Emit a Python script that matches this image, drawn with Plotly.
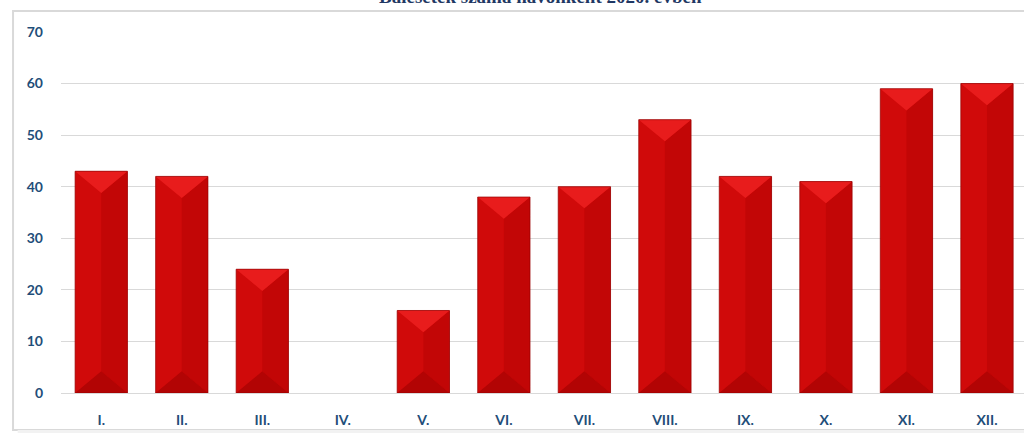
import plotly.graph_objects as go

months = ["I.", "II.", "III.", "IV.", "V.", "VI.", "VII.", "VIII.", "IX.", "X.", "XI.", "XII."]
values = [43, 42, 24, 0, 16, 38, 40, 53, 42, 41, 59, 60]
y_ticks = [0, 10, 20, 30, 40, 50, 60, 70]
title_text = "Balesetek száma havonként 2020. évben"

W = 0.65   # bar width in category units
D = 4.2    # bevel depth in value units
xs = list(range(len(months)))

fig = go.Figure()
fig.add_trace(go.Bar(x=xs, y=values, width=W, marker=dict(color="#d00a0a",
                     line=dict(color="#a00000", width=0)), hoverinfo="skip", showlegend=False))

def poly_trace(pts_fn, color, lw=0, lc="rgba(0,0,0,0)"):
    px, py = [], []
    for x, v in zip(xs, values):
        if v <= 0:
            continue
        pts = pts_fn(x, v)
        for p in pts + [pts[0]]:
            px.append(p[0]); py.append(p[1])
        px.append(None); py.append(None)
    fig.add_trace(go.Scatter(x=px, y=py, fill="toself", fillcolor=color, mode="lines",
                             line=dict(width=lw, color=lc), hoverinfo="skip", showlegend=False))

h = W / 2
# right half slightly darker
poly_trace(lambda x, v: [(x, v - D), (x + h, v), (x + h, 0), (x, D)], "#c20606")
# top bevel lighter
poly_trace(lambda x, v: [(x - h, v), (x + h, v), (x, v - D)], "#e81c1c")
# bottom bevel darker
poly_trace(lambda x, v: [(x - h, 0), (x + h, 0), (x, D)], "#b20404")
# outline
poly_trace(lambda x, v: [(x - h, 0), (x - h, v), (x + h, v), (x + h, 0)], "rgba(0,0,0,0)",
           lw=1, lc="rgba(150,0,0,0.7)")

tick_font = dict(family="Lato, 'Open Sans', sans-serif", size=14, color="#1f4e79")

fig.update_layout(
    width=1024, height=433,
    margin=dict(l=61, r=0, t=32, b=40),
    paper_bgcolor="white", plot_bgcolor="white",
    xaxis=dict(range=[-0.5, 11.46], tickmode="array", tickvals=xs, ticktext=[f"<b>{m}</b>" for m in months],
               tickfont=tick_font, showgrid=False, zeroline=False, showline=False,
               ticklabelstandoff=17, fixedrange=True),
    yaxis=dict(range=[0, 70], tickmode="array", tickvals=y_ticks, ticktext=[f"<b>{t}</b>" for t in y_ticks],
               tickfont=tick_font, showgrid=True, gridcolor="#d9d9d9", gridwidth=1,
               zeroline=True, zerolinecolor="#d9d9d9", zerolinewidth=1, showline=False,
               ticklabelstandoff=17, fixedrange=True),
    shapes=[
        dict(type="rect", xref="paper", yref="paper", x0=-0.0498, x1=1.02, y0=-0.1025, y1=1.058,
             line=dict(color="#d9d9d9", width=2), fillcolor="rgba(0,0,0,0)", layer="below"),
        dict(type="rect", xref="paper", yref="paper", x0=-0.045, x1=1.02, y0=-0.13, y1=-0.1025,
             line=dict(width=0), fillcolor="#f2f2f2", layer="below"),
    ],
    annotations=[dict(text=f"<b>{title_text}</b>", xref="paper", yref="paper", x=0.498, y=1.097,
                      xanchor="center", yanchor="middle", showarrow=False,
                      font=dict(family="'Liberation Serif', serif", size=19, color="#1f3864"))],
)

fig.write_html("out.html", config={"displayModeBar": False},
               post_script="document.body.style.margin='0px';")
